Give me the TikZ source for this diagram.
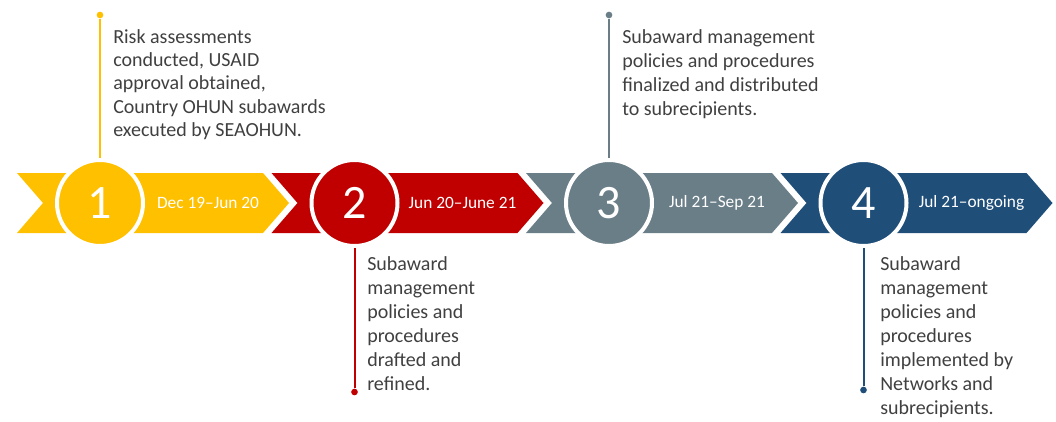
\documentclass[tikz,border=0pt]{standalone}
\usepackage{fontspec}
\setmainfont{Carlito}
\usetikzlibrary{calc}

\definecolor{stageyellow}{HTML}{FFC000}
\definecolor{stagered}{HTML}{C00000}
\definecolor{stagegray}{HTML}{6A7E88}
\definecolor{stageblue}{HTML}{1F4E79}
\definecolor{notetext}{HTML}{404040}

\begin{document}
\begin{tikzpicture}[x=0.75pt,y=-0.75pt,
    stage/.style={circle,draw=white,line width=3pt,minimum size=64.5pt,inner sep=0pt,text=white,font=\fontsize{36}{36}\selectfont},
    period/.style={text=white,inner sep=0pt,font=\fontsize{13}{15}\selectfont},
    note/.style={anchor=north west,align=left,inner sep=0pt,text=notetext,font=\fontsize{15}{18}\selectfont},
    stem/.style={line width=1.5pt},
    knob/.style={circle,inner sep=0pt,minimum size=5pt}]
  \useasboundingbox (0,0) rectangle (1056,421);

  % chevrons, numbered circles and periods
  \foreach[count=\i,evaluate={\x=17+254.5*(\i-1);}] \col/\when in {stageyellow/Dec 19--Jun 20,stagered/Jun 20--June 21,stagegray/Jul 21--Sep 21,stageblue/Jul 21--ongoing} {
    \fill[\col] (\x,173) -- ++(246,0) -- ++(26,30) -- ++(-26,30) -- ++(-246,0) -- ++(26,-30) -- cycle;
    \node[period] (p\i) at (\x+191,203) {\when};
  }
  \foreach[count=\i,evaluate={\x=17+254.5*(\i-1);}] \col in {stageyellow,stagered,stagegray,stageblue} {
    \node[stage,fill=\col] (s\i) at (\x+83,203) {\i};
  }

  % stems with end knobs
  \node[knob,fill=stageyellow] (k1) at ($(s1)+(0,-188)$) {};
  \node[knob,fill=stagered] (k2) at ($(s2)+(0,189)$) {};
  \node[knob,fill=stagegray] (k3) at ($(s3)+(0,-188)$) {};
  \node[knob,fill=stageblue] (k4) at ($(s4)+(0,187)$) {};
  \draw[stem,stageyellow] (k1) -- (s1);
  \draw[stem,stagered] (k2) -- (s2);
  \draw[stem,stagegray] (k3) -- (s3);
  \draw[stem,stageblue] (k4) -- (s4);

  % notes
  \node[note,font=\fontsize{15}{17.5}\selectfont] (n1) at (113,29) {Risk assessments\\conducted, USAID\\approval obtained,\\Country OHUN subawards\\executed by SEAOHUN.};
  \node[note] (n2) at (367,256) {Subaward\\management\\policies and\\procedures\\drafted and\\refined.};
  \node[note] (n3) at (622,29) {Subaward management\\policies and procedures\\finalized and distributed\\to subrecipients.};
  \node[note] (n4) at (880,256) {Subaward\\management\\policies and\\procedures\\implemented by\\Networks and\\subrecipients.};
\end{tikzpicture}
\end{document}
